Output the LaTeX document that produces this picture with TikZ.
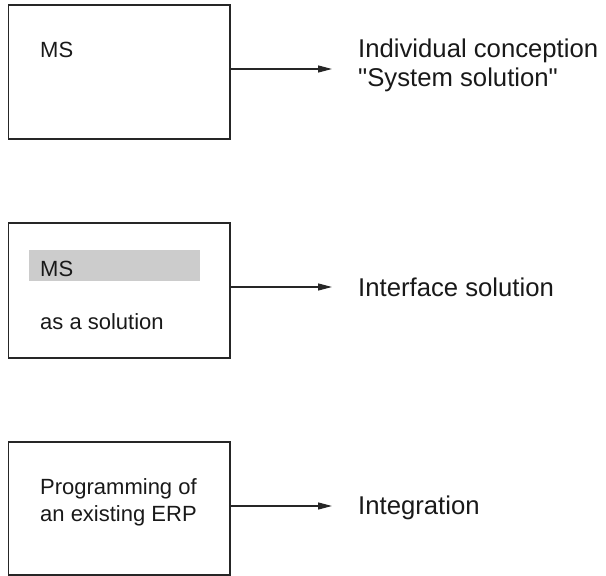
\documentclass[tikz,border=0pt]{standalone}
\usepackage{fontspec}
\setmainfont{Liberation Sans}[Ligatures=TeXOff]
\usetikzlibrary{arrows.meta}

\begin{document}
\begin{tikzpicture}[x=1pt, y=-1pt,
    main_box/.style={rectangle, draw=black!85, line width=1.8pt, minimum width=221.5pt},
    txt/.style={inner sep=0, font=\fontsize{22}{27.5}\selectfont, text=black!90},
    lbl/.style={inner sep=0, font=\fontsize{25.7}{28.5}\selectfont, text=black!90},
    arr/.style={-{Triangle[length=14pt,width=7pt]}, line width=1.3pt, draw=black!85}]

    \useasboundingbox (0,0) rectangle (606,576);

    % boxes on the left
    \node[main_box, minimum height=134pt] (1) at (119.25,72) {};
    \node[main_box, minimum height=135pt] (2) at (119.25,290.5) {};
    \node[main_box, minimum height=133pt] (3) at (119.25,508.5) {};

    \node[fill=black!20, minimum width=171pt, minimum height=31pt, inner sep=0] (bar) at (114.5,265.5) {};

    \node[txt, anchor=base west] (4) at (40,57.3) {MS};
    \node[txt, anchor=base west] (5) at (40,276) {MS};
    \node[txt, anchor=base west] (6) at (40,329) {as a solution};
    \node[txt, anchor=north west, align=left] (7) at (40,478) {Programming of\\an existing ERP};

    % labels on the right
    \node[lbl, anchor=north west, align=left] (8) at (358,39) {Individual conception\\"System solution"};
    \node[lbl, anchor=base west] (9) at (358,296.5) {Interface solution};
    \node[lbl, anchor=base west] (10) at (358,514) {Integration};

    \coordinate (11) at (332,69);
    \coordinate (12) at (332,287);
    \coordinate (13) at (332,506);

    \draw[arr] ([yshift=3pt]1.east) -- (11);
    \draw[arr] ([yshift=3.5pt]2.east) -- (12);
    \draw[arr] ([yshift=2.5pt]3.east) -- (13);

\end{tikzpicture}
\end{document}
